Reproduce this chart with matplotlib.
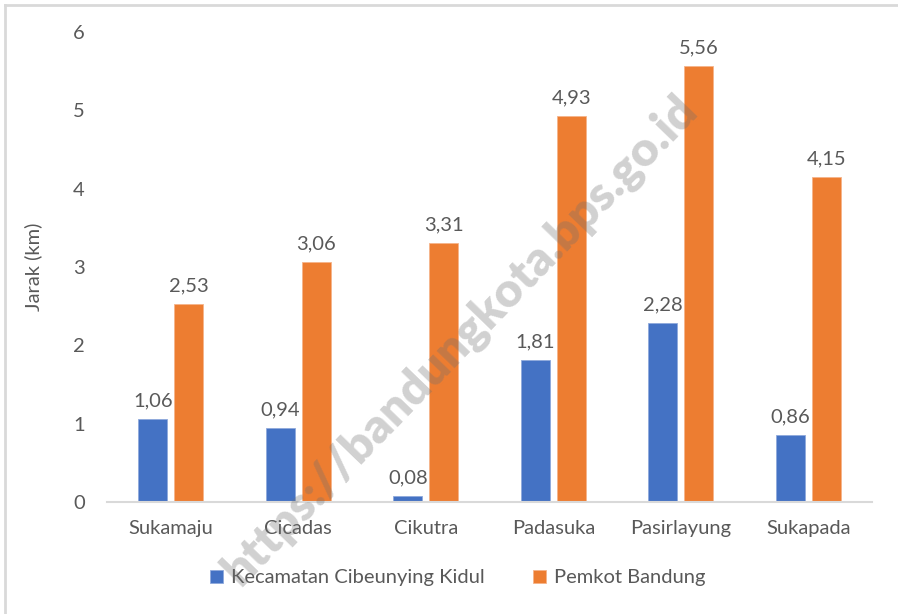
import matplotlib.pyplot as plt
from matplotlib.lines import Line2D
import numpy as np

plt.rcParams['font.family'] = ['Lato', 'DejaVu Sans']

kelurahan = ["Sukamaju", "Cicadas", "Cikutra", "Padasuka", "Pasirlayung", "Sukapada"]
kecamatan = [1.06, 0.94, 0.08, 1.81, 2.28, 0.86]
pemkot = [2.53, 3.06, 3.31, 4.93, 5.56, 4.15]
yticks = [0, 1, 2, 3, 4, 5, 6]

blue = "#4472C4"
orange = "#ED7D31"
txt = "#595959"
fs = 14.5

fig = plt.figure(figsize=(8.98, 6.14), dpi=100)
ax = fig.add_axes([107 / 898, 1 - 502 / 614, 765 / 898, 470 / 614])

x = np.arange(len(kelurahan))
w = 0.228
b1 = ax.bar(x - 0.14, kecamatan, w, color=blue, edgecolor="#8fa9dc", linewidth=0.6,
            label="Kecamatan Cibeunying Kidul")
b2 = ax.bar(x + 0.14, pemkot, w, color=orange, edgecolor="#f5b48a", linewidth=0.6,
            label="Pemkot Bandung")

for bars, vals in ((b1, kecamatan), (b2, pemkot)):
    for r, v in zip(bars, vals):
        ax.annotate(f"{v:.2f}".replace(".", ","), (r.get_x() + r.get_width() / 2, v),
                    xytext=(0, 7), textcoords="offset points", ha="center", va="bottom",
                    fontsize=fs, color=txt)

ax.set_xlim(-0.5, len(kelurahan) - 0.5)
ax.set_ylim(0, 6)
ax.set_yticks(yticks)
ax.set_xticks(x)
ax.set_xticklabels(kelurahan)
ax.tick_params(axis="both", length=0, labelsize=fs, labelcolor=txt)
ax.tick_params(axis="x", pad=13)
ax.tick_params(axis="y", pad=16)
for s in ("top", "right", "left"):
    ax.spines[s].set_visible(False)
ax.spines["bottom"].set_color("#d9d9d9")
ax.spines["bottom"].set_linewidth(1.5)
ax.set_ylabel("Jarak (km)", fontsize=fs, color=txt, labelpad=22)

fig.legend(handles=[b1, b2], loc="center", bbox_to_anchor=(458 / 898, 1 - 578 / 614),
           ncol=2, frameon=False, fontsize=fs, labelcolor=txt, handlelength=0.65,
           handleheight=0.65, handletextpad=0.4, columnspacing=2.4)

# outer frame (left and top edges visible)
fig.add_artist(Line2D([5 / 898, 5 / 898], [0, 1 - 5 / 614], transform=fig.transFigure,
                      color="#d9d9d9", lw=2))
fig.add_artist(Line2D([5 / 898, 1], [1 - 5 / 614, 1 - 5 / 614], transform=fig.transFigure,
                      color="#d9d9d9", lw=2))

# watermark
fig.text(460 / 898, 1 - 340 / 614, "https://bandungkota.bps.go.id", rotation=46,
         ha="center", va="center", fontsize=34.5, fontweight="heavy",
         color="#707070", alpha=0.32, zorder=10)

fig.savefig("out.png", dpi=100, facecolor="white")
